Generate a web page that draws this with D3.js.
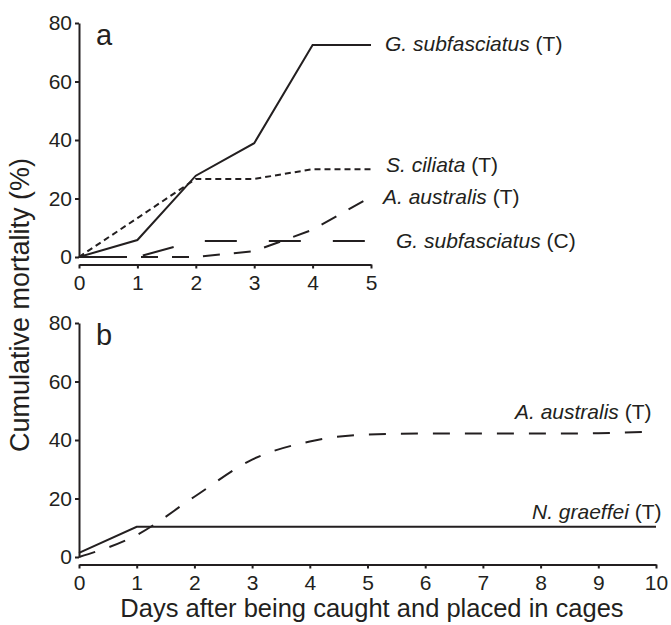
<!DOCTYPE html>
<html>
<head>
<meta charset="utf-8">
<script src="https://cdn.jsdelivr.net/npm/d3@7"></script>
<style>
  body { margin: 0; background: #fff; }
  svg { font-family: "Liberation Sans", Arial, Helvetica, sans-serif; }
  .axis path, .axis line { stroke: #231f20; }
  .axis text { fill: #231f20; font-size: 21px; }
</style>
</head>
<body>
<svg width="671" height="625"></svg>
<script>
// panel a: days 0-5
var daysA = [0, 1, 2, 3, 4, 5];
var gSubfT = [0, 5.8, 27.8, 38.9, 72.5, 72.5];
var sCiliataT = [0, 13.3, 26.7, 26.7, 30, 30];
var aAustralisTa = [0, 0, 0, 2, 9.3, 20.6];
var gSubfC = [0, 0, 5.5, 5.5, 5.5, 5.5];

// panel b: days 0-10
var daysB = [0, 1, 2, 3, 4, 5, 6, 7, 8, 9, 10];
var aAustralisTb = [0, 7.5, 20.6, 33.3, 39.5, 41.9, 42.2, 42.2, 42.2, 42.3, 43];
var nGraeffeiT = [1.4, 10.3, 10.3, 10.3, 10.3, 10.3, 10.3, 10.3, 10.3, 10.3, 10.3];

var yTicks = [0, 20, 40, 60, 80];
var xTicksA = [0, 1, 2, 3, 4, 5];
var xTicksB = [0, 1, 2, 3, 4, 5, 6, 7, 8, 9, 10];

var ink = "#231f20";
var svg = d3.select("svg");

function panel(opts) {
    var x = d3.scaleLinear().domain(opts.xDomain).range(opts.xRange),
        y = d3.scaleLinear().domain([0, 80]).range([opts.y0, opts.y0 - 234]);

    svg.append("g")
        .attr("class", "axis")
        .attr("transform", "translate(" + opts.xRange[0] + ",0)")
        .call(d3.axisLeft(y).tickValues(yTicks).tickFormat(d3.format("d"))
            .tickSize(4).tickSizeOuter(0).tickPadding(3))
        .call(function(g) { g.selectAll("path, line").attr("stroke-width", 2); });

    svg.append("g")
        .attr("class", "axis")
        .attr("transform", "translate(0," + (opts.y0 + 7.5) + ")")
        .call(d3.axisBottom(x).tickValues(opts.xTicks).tickFormat(d3.format("d"))
            .tickSize(4).tickSizeOuter(0).tickPadding(7))
        .call(function(g) { g.selectAll("path, line").attr("stroke-width", 2); });

    svg.append("text")
        .attr("x", opts.xRange[0] + 17)
        .attr("y", opts.y0 - 212)
        .attr("font-size", 29)
        .attr("fill", ink)
        .text(opts.letter);

    var line = d3.line()
        .x(function(d) { return x(d[0]); })
        .y(function(d) { return y(d[1]); });

    opts.series.forEach(function(s) {
        svg.append("path")
            .datum(opts.days.map(function(d, i) { return [d, s.values[i]]; }))
            .attr("fill", "none")
            .attr("stroke", ink)
            .attr("stroke-width", 2)
            .attr("stroke-dasharray", s.dash)
            .attr("d", line.curve(s.curve || d3.curveLinear));

        var t = svg.append("text")
            .attr("x", s.lx)
            .attr("y", s.ly)
            .attr("font-size", 21)
            .attr("fill", ink);
        t.append("tspan").attr("font-style", "italic").text(s.species);
        t.append("tspan").text(" " + s.group);
    });
}

panel({
    letter: "a",
    xDomain: [0, 5], xRange: [79, 371], xTicks: xTicksA, y0: 257, days: daysA,
    series: [
        {species: "G. subfasciatus", group: "(T)", values: gSubfT, dash: null, lx: 385, ly: 51},
        {species: "S. ciliata", group: "(T)", values: sCiliataT, dash: "6,4", lx: 386, ly: 172},
        {species: "A. australis", group: "(T)", values: aAustralisTa, dash: "17,14", lx: 383, ly: 204},
        {species: "G. subfasciatus", group: "(C)", values: gSubfC, dash: "32,32", lx: 396, ly: 248}
    ]
});

panel({
    letter: "b",
    xDomain: [0, 10], xRange: [79, 656], xTicks: xTicksB, y0: 557, days: daysB,
    series: [
        {species: "A. australis", group: "(T)", values: aAustralisTb, dash: "17,15", curve: d3.curveMonotoneX, lx: 515, ly: 419},
        {species: "N. graeffei", group: "(T)", values: nGraeffeiT, dash: null, lx: 532, ly: 519}
    ]
});

svg.append("text")
    .attr("transform", "translate(29,305) rotate(-90)")
    .attr("text-anchor", "middle")
    .attr("font-size", 27)
    .attr("fill", ink)
    .text("Cumulative mortality (%)");

svg.append("text")
    .attr("x", 372)
    .attr("y", 617)
    .attr("text-anchor", "middle")
    .attr("font-size", 25.5)
    .attr("fill", ink)
    .text("Days after being caught and placed in cages");
</script>
</body>
</html>
